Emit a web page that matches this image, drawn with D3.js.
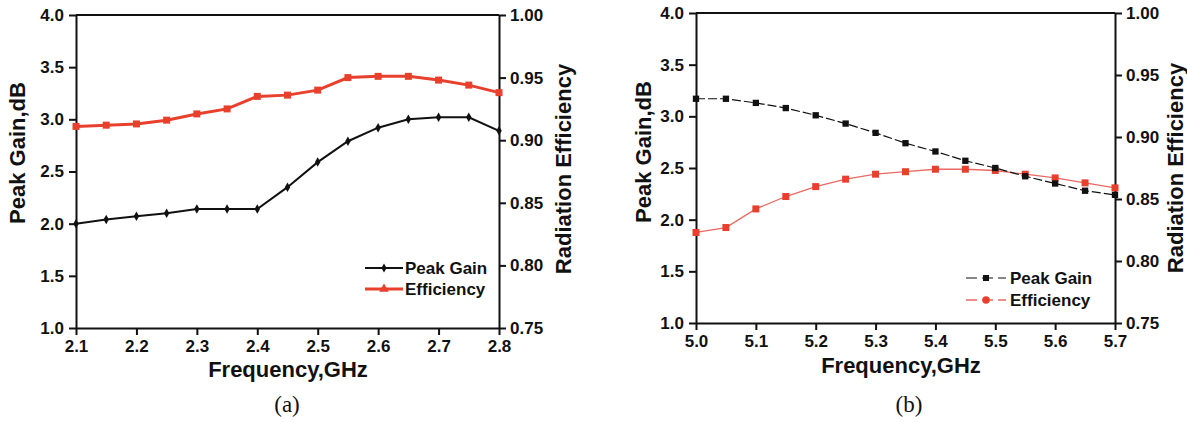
<!DOCTYPE html>
<html>
<head>
<meta charset="utf-8">
<script src="https://cdn.jsdelivr.net/npm/d3@7"></script>
<style>
  html, body { margin: 0; padding: 0; background: #fff; }
  svg { display: block; }
  .tick text { font-family: "Liberation Sans", Arial, sans-serif; font-weight: bold; font-size: 17px; fill: #111; }
  .axis path, .axis line { stroke: #111; stroke-width: 2; }
  .title { font-family: "Liberation Sans", Arial, sans-serif; font-weight: bold; font-size: 22px; fill: #111; }
  .legend { font-family: "Liberation Sans", Arial, sans-serif; font-weight: bold; font-size: 17px; fill: #111; }
  .caption { font-family: "Liberation Serif", "Times New Roman", serif; font-size: 23px; fill: #111; }
</style>
</head>
<body>
<svg id="chart" width="1187" height="423"></svg>
<script>
// (a) 2.1–2.8 GHz band
const freqA = [2.10, 2.15, 2.20, 2.25, 2.30, 2.35, 2.40, 2.45, 2.50, 2.55, 2.60, 2.65, 2.70, 2.75, 2.80];
const gainA = [2.00, 2.04, 2.07, 2.10, 2.14, 2.14, 2.14, 2.35, 2.59, 2.79, 2.92, 3.00, 3.02, 3.02, 2.89];
const effA  = [0.911, 0.912, 0.913, 0.916, 0.921, 0.925, 0.935, 0.936, 0.940, 0.950, 0.951, 0.951, 0.948, 0.944, 0.938];
const xTicksA = [2.1, 2.2, 2.3, 2.4, 2.5, 2.6, 2.7, 2.8];

// (b) 5.0–5.7 GHz band
const freqB = [5.00, 5.05, 5.10, 5.15, 5.20, 5.25, 5.30, 5.35, 5.40, 5.45, 5.50, 5.55, 5.60, 5.65, 5.70];
const gainB = [3.17, 3.17, 3.13, 3.08, 3.01, 2.93, 2.84, 2.74, 2.66, 2.57, 2.50, 2.42, 2.35, 2.28, 2.24];
const effB  = [0.823, 0.827, 0.842, 0.852, 0.860, 0.866, 0.870, 0.872, 0.874, 0.874, 0.873, 0.870, 0.867, 0.863, 0.859];
const xTicksB = [5.0, 5.1, 5.2, 5.3, 5.4, 5.5, 5.6, 5.7];

const gainTicks = [1.0, 1.5, 2.0, 2.5, 3.0, 3.5, 4.0];
const effTicks = [0.75, 0.80, 0.85, 0.90, 0.95, 1.00];
const seriesNames = ["Peak Gain", "Efficiency"];
const captions = ["(a)", "(b)"];

const RED = "#e8402c";
const svg = d3.select("#chart");

function drawPanel(o) {
  const x = d3.scaleLinear().domain(o.xDomain).range([o.left, o.right]);
  const yG = d3.scaleLinear().domain([1, 4]).range([o.bottom, o.top]);
  const yE = d3.scaleLinear().domain([0.75, 1.0]).range([o.bottom, o.top]);
  const g = svg.append("g");

  // frame top edge
  g.append("line").attr("x1", o.left).attr("x2", o.right).attr("y1", o.top).attr("y2", o.top)
    .attr("stroke", "#111").attr("stroke-width", 2);

  g.append("g").attr("class", "axis").attr("transform", `translate(0,${o.bottom})`)
    .call(d3.axisBottom(x).tickValues(o.xTicks).tickSize(7).tickPadding(5).tickSizeOuter(0).tickFormat(d3.format(".1f")));
  g.append("g").attr("class", "axis").attr("transform", `translate(${o.left},0)`)
    .call(d3.axisLeft(yG).tickValues(gainTicks).tickSize(7).tickPadding(5).tickSizeOuter(0).tickFormat(d3.format(".1f")));
  g.append("g").attr("class", "axis").attr("transform", `translate(${o.right},0)`)
    .call(d3.axisRight(yE).tickValues(effTicks).tickSize(7).tickPadding(4).tickSizeOuter(0).tickFormat(d3.format(".2f")));

  // titles
  g.append("text").attr("class", "title").attr("text-anchor", "middle")
    .attr("x", o.xTitleX).attr("y", o.xTitleY).text("Frequency,GHz");
  g.append("text").attr("class", "title").attr("text-anchor", "middle")
    .attr("transform", `translate(${o.yTitleLX},${o.yTitleLY}) rotate(-90)`).attr("dy", "0.35em").text("Peak Gain,dB");
  g.append("text").attr("class", "title").attr("text-anchor", "middle")
    .attr("transform", `translate(${o.yTitleRX},${o.yTitleRY}) rotate(-90)`).attr("dy", "0.35em").text("Radiation Efficiency");
  g.append("text").attr("class", "caption").attr("text-anchor", "middle")
    .attr("x", o.capX).attr("y", 412).text(o.caption);

  const gainPts = o.freq.map((f, i) => [x(f), yG(o.gain[i])]);
  const effPts = o.freq.map((f, i) => [x(f), yE(o.eff[i])]);
  const line = d3.line();

  // efficiency series
  g.append("path").attr("d", line(effPts)).attr("fill", "none")
    .attr("stroke", o.effLine).attr("stroke-width", o.effWidth);
  g.selectAll(null).data(effPts).join("rect")
    .attr("x", d => d[0] - o.effSize / 2).attr("y", d => d[1] - o.effSize / 2)
    .attr("width", o.effSize).attr("height", o.effSize).attr("fill", RED);

  // peak gain series
  g.append("path").attr("d", line(gainPts)).attr("fill", "none")
    .attr("stroke", "#111").attr("stroke-width", o.gainWidth).attr("stroke-dasharray", o.gainDash);
  g.selectAll(null).data(gainPts).join("path")
    .attr("transform", d => `translate(${d[0]},${d[1]})`)
    .attr("d", d3.symbol().type(o.gainSym).size(o.gainSymSize)).attr("fill", "#111");

  // legend
  const L = o.legend;
  seriesNames.forEach((name, i) => {
    const yy = L.y + i * L.dy;
    const isGain = i === 0;
    const col = isGain ? "#111" : o.effLine;
    g.append("line").attr("x1", L.x0).attr("x2", L.x1).attr("y1", yy).attr("y2", yy)
      .attr("stroke", col).attr("stroke-width", isGain ? o.gainWidth : o.effWidth)
      .attr("stroke-dasharray", L.dash);
    g.append("path").attr("transform", `translate(${(L.x0 + L.x1) / 2},${yy})`)
      .attr("d", d3.symbol().type(isGain ? L.gainSym : L.effSym).size(isGain ? L.gainSize : L.effSize))
      .attr("fill", isGain ? "#111" : RED);
    g.append("text").attr("class", "legend").attr("x", L.tx).attr("y", yy).attr("dy", "0.35em").text(name);
  });
}

drawPanel({
  xDomain: [2.1, 2.8], xTicks: xTicksA, left: 76, right: 499, top: 15, bottom: 328,
  freq: freqA, gain: gainA, eff: effA,
  xTitleX: 288, xTitleY: 377, yTitleLX: 17, yTitleLY: 153, yTitleRX: 563, yTitleRY: 169,
  capX: 287, caption: captions[0],
  effLine: RED, effWidth: 3, effSize: 7,
  gainWidth: 2, gainDash: null, gainSym: d3.symbolDiamond, gainSymSize: 26,
  legend: { x0: 365, x1: 403, tx: 405, y: 268, dy: 21, dash: null,
            gainSym: d3.symbolDiamond, gainSize: 24, effSym: d3.symbolTriangle, effSize: 40 }
});

drawPanel({
  xDomain: [5.0, 5.7], xTicks: xTicksB, left: 696, right: 1115, top: 13, bottom: 323,
  freq: freqB, gain: gainB, eff: effB,
  xTitleX: 901, xTitleY: 373, yTitleLX: 643, yTitleLY: 152, yTitleRX: 1175, yTitleRY: 168,
  capX: 909, caption: captions[1],
  effLine: "#e86a62", effWidth: 1.3, effSize: 7,
  gainWidth: 1.2, gainDash: "9,3", gainSym: d3.symbolSquare, gainSymSize: 40,
  legend: { x0: 966, x1: 1006, tx: 1010, y: 278, dy: 22, dash: "11,5",
            gainSym: d3.symbolSquare, gainSize: 36, effSym: d3.symbolCircle, effSize: 44 }
});
</script>
</body>
</html>
